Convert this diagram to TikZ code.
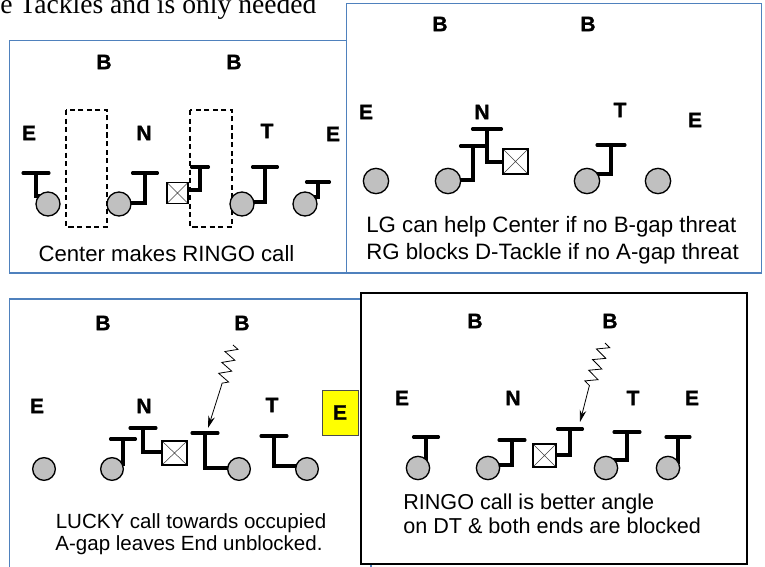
\documentclass[tikz,border=0pt]{standalone}
\usepackage{fontspec}
\setmainfont{Liberation Sans}
\newfontfamily\serifface{Liberation Serif}
\newfontfamily\labelface[FakeBold=1.2]{Liberation Sans Bold}
\usetikzlibrary{decorations.pathmorphing,arrows.meta}

\definecolor{panelblue}{RGB}{79,129,189}
\definecolor{playergray}{RGB}{192,192,192}
\definecolor{callyellow}{RGB}{255,255,0}

\pgfdeclarelayer{panels}
\pgfdeclarelayer{marks}
\pgfsetlayers{panels,marks,main}

% block symbol: bar centred at (#1,#2) with half width #3,
% stem down to y=#4, then across to the blocker #5
\newcommand\blockmark[5]{%
  \draw[barline] ({#1-#3},#2) -- ({#1+#3},#2);
  \draw[stemline] (#1,#2) -- (#1,#4) -- (#5 |- 0,#4);
}

\begin{document}
\begin{tikzpicture}[x=0.75pt,y=-0.75pt,
  bluepanel/.style={draw=panelblue,line width=1.35pt,fill=white},
  blackpanel/.style={draw=black,line width=1.5pt,fill=white},
  lbl/.style={inner sep=0pt,font=\labelface\fontsize{15.7}{18}\selectfont},
  player/.style={circle,draw,line width=1pt,fill=playergray,inner sep=0pt},
  ctr/.style={rectangle,draw,line width=0.9pt,fill=white,inner sep=0pt,
    path picture={\draw[line width=0.4pt,black!75]
      (path picture bounding box.north west) -- (path picture bounding box.south east)
      (path picture bounding box.north east) -- (path picture bounding box.south west);}},
  gapbox/.style={draw,line width=1.7pt,dash pattern=on 3.8pt off 2.6pt},
  barline/.style={line width=2.3pt,line cap=round},
  stemline/.style={line width=2.3pt,line join=miter},
  blitz/.style={line width=0.6pt,-{Stealth[length=9pt,width=5pt]},
    decoration={zigzag,segment length=8.5pt,amplitude=4.5pt}},
  caption/.style={inner sep=0pt,anchor=base}
]
\useasboundingbox (0,0) rectangle (765,567);

% running text above the figures
\node[anchor=base west,inner sep=0pt,font=\serifface\fontsize{20.7}{24}\selectfont]
  (headline) at (0,14) {e Tackles and is only needed};

% frames
\begin{pgfonlayer}{panels}
  \draw[bluepanel] (9.5,40.5) rectangle (346.5,273);
  \draw[bluepanel] (346.5,3.5) rectangle (761.5,273);
  \filldraw[bluepanel] (371,572) -- (371,299) -- (9.5,299) -- (9.5,572);
  \draw[blackpanel] (361,293) rectangle (747,564);
\end{pgfonlayer}

% ---------------- panel 1 ----------------
\node[lbl] (p1bl) at (104,62) {B};
\node[lbl] (p1br) at (234,62) {B};
\node[lbl] (p1el) at (29,133) {E};
\node[lbl] (p1n)  at (144,133) {N};
\node[lbl] (p1t)  at (267,131) {T};
\node[lbl] (p1er) at (333,134) {E};
\draw[gapbox] (66,110) rectangle (107,227);
\draw[gapbox] (190,110) rectangle (232,227);
\node[player,minimum size=18pt] (p1a) at (48,204) {};
\node[player,minimum size=18pt] (p1b) at (119,204) {};
\node[ctr,minimum size=15.75pt] (p1sq) at (177.5,193) {};
\node[player,minimum size=18pt] (p1c) at (242,204) {};
\node[player,minimum size=18pt] (p1d) at (305,204) {};
\node[caption,font=\fontsize{16.6}{20}\selectfont] (p1cap) at (166.5,261) {Center makes RINGO call};
\begin{pgfonlayer}{marks}
  \blockmark{36}{173}{13}{196}{p1a}
  \blockmark{145}{173}{12.5}{203}{p1b}
  \blockmark{200}{167}{8.5}{190}{p1sq}
  \blockmark{265}{167}{12.5}{202}{p1c}
  \blockmark{318}{182}{11.5}{197}{p1d}
\end{pgfonlayer}

% ---------------- panel 2 ----------------
\node[lbl] (p2bl) at (440,24) {B};
\node[lbl] (p2br) at (588,24) {B};
\node[lbl] (p2el) at (366,112) {E};
\node[lbl] (p2n)  at (482,112) {N};
\node[lbl] (p2t)  at (620,110) {T};
\node[lbl] (p2er) at (695,120) {E};
\node[player,minimum size=19pt] (p2a) at (376,181) {};
\node[player,minimum size=19pt] (p2b) at (448,181) {};
\node[ctr,minimum size=18.75pt] (p2sq) at (515.5,161.5) {};
\node[player,minimum size=19pt] (p2c) at (587,181) {};
\node[player,minimum size=19pt] (p2d) at (658,181) {};
\node[caption,anchor=base west,font=\fontsize{16.7}{20}\selectfont] (p2cap1) at (366,233) {LG can help Center if no B-gap threat};
\node[caption,anchor=base west,font=\fontsize{16.7}{20}\selectfont] (p2cap2) at (366,259) {RG blocks D-Tackle if no A-gap threat};
\begin{pgfonlayer}{marks}
  \blockmark{473}{146}{12.5}{180}{p2b}
  \blockmark{487}{129}{14.5}{162}{p2sq}
  \blockmark{611}{145}{14}{174}{p2c}
\end{pgfonlayer}

% ---------------- panel 3 ----------------
\node[lbl] (p3bl) at (103,323) {B};
\node[lbl] (p3br) at (242,323) {B};
\node[lbl] (p3el) at (37,406) {E};
\node[lbl] (p3n)  at (144,406) {N};
\node[lbl] (p3t)  at (272,405) {T};
\node[lbl,draw=black!70,line width=0.6pt,fill=callyellow,minimum width=27pt,minimum height=33.75pt]
  (p3er) at (340,412.5) {E};
\node[player,minimum size=17pt] (p3a) at (44,469) {};
\node[player,minimum size=17pt] (p3b) at (112,469) {};
\node[ctr,minimum width=18.75pt,minimum height=18pt] (p3sq) at (174.5,453) {};
\node[player,minimum size=17pt] (p3c) at (239,469) {};
\node[player,minimum size=17pt] (p3d) at (307,469) {};
\node[caption,font=\fontsize{15.4}{18}\selectfont] (p3cap1) at (191,528) {LUCKY call towards occupied};
\node[caption,font=\fontsize{15.4}{18}\selectfont] (p3cap2) at (189,550) {A-gap leaves End unblocked.};
\coordinate (z3a) at (233,345);
\coordinate (z3b) at (221,387);
\coordinate (z3c) at (208,428);
\begin{pgfonlayer}{marks}
  \blockmark{123}{439}{12.5}{464}{p3b}
  \blockmark{143}{428}{13}{452}{p3sq}
  \blockmark{205}{433}{13}{468}{p3c}
  \blockmark{274}{436}{13}{466}{p3d}
\end{pgfonlayer}
\draw[blitz] (z3a) decorate {-- (z3b)} -- (z3c);

% ---------------- panel 4 ----------------
\node[lbl] (p4bl) at (475,321) {B};
\node[lbl] (p4br) at (610,321) {B};
\node[lbl] (p4el) at (402,398) {E};
\node[lbl] (p4n)  at (513,398) {N};
\node[lbl] (p4t)  at (633,398) {T};
\node[lbl] (p4er) at (692,398) {E};
\node[player,minimum size=17.5pt] (p4a) at (418,468) {};
\node[player,minimum size=17.5pt] (p4b) at (488,468) {};
\node[ctr,minimum size=17.25pt] (p4sq) at (544.5,455.5) {};
\node[player,minimum size=17.5pt] (p4c) at (606,468) {};
\node[player,minimum size=17.5pt] (p4d) at (668,468) {};
\node[caption,anchor=base west,font=\fontsize{16.2}{19}\selectfont] (p4cap1) at (403,509) {RINGO call is better angle};
\node[caption,anchor=base west,font=\fontsize{16.2}{19}\selectfont] (p4cap2) at (403,533) {on DT \& both ends are blocked};
\coordinate (z4a) at (605,343);
\coordinate (z4b) at (589,387);
\coordinate (z4c) at (580,422);
\begin{pgfonlayer}{marks}
  \blockmark{426}{437}{12.5}{462}{p4a}
  \blockmark{512}{440}{13}{465}{p4b}
  \blockmark{570}{429}{12.5}{455}{p4sq}
  \blockmark{627}{432}{13}{460}{p4c}
  \blockmark{678}{437}{12}{462}{p4d}
\end{pgfonlayer}
\draw[blitz] (z4a) decorate {-- (z4b)} -- (z4c);
\end{tikzpicture}
\end{document}
